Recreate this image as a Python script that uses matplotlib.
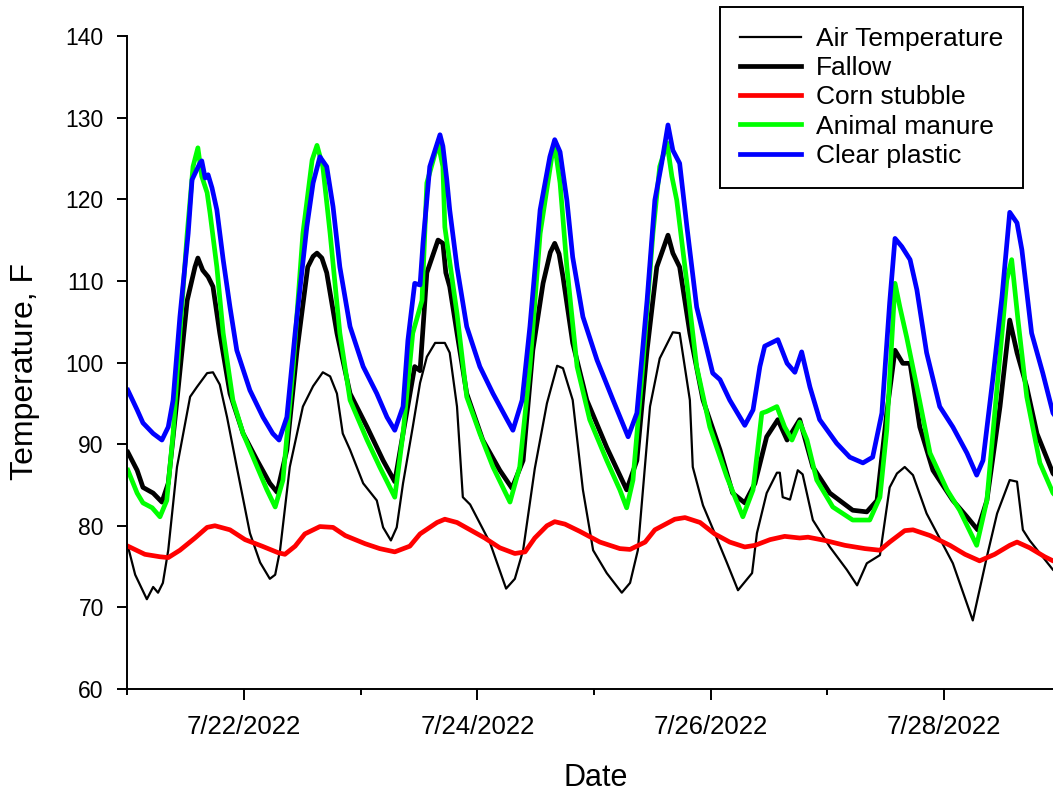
import numpy as np
import pandas as pd
import matplotlib
matplotlib.use('Agg')
import matplotlib.pyplot as plt
import matplotlib.dates as mdates
from matplotlib.ticker import FuncFormatter

plt.rcParams['font.family'] = ['Liberation Sans', 'DejaVu Sans']

# start of record, hours after it for every reading
start = pd.Timestamp('2022-07-21 00:00')

air_h = [0.1, 1.6, 4.0, 5.3, 6.3, 7.3, 8.4, 10.2, 12.9, 14.3, 16.4, 17.6, 19.0, 20.5, 22.5,
         25.2, 27.3, 29.3, 30.4, 31.4, 33.4, 36.1, 38.2, 40.2, 41.7, 43.1, 44.3, 45.8, 48.5,
         51.3, 52.6, 54.2, 55.4, 56.7, 58.7, 60.2, 61.6, 63.3, 65.3, 66.3, 67.8, 69.0, 70.5,
         74.6, 77.9, 79.7, 81.4, 83.8, 86.3, 88.4, 89.6, 91.6, 93.7, 95.8, 98.6, 101.7, 103.4,
         105.0, 107.5, 109.5, 112.2, 113.6, 115.7, 116.3, 118.4, 120.8, 123.3, 125.6, 128.5,
         129.5, 131.5, 133.6, 134.2, 134.8, 136.3, 137.9, 138.9, 141.0, 144.5, 148.0, 150.1,
         152.1, 154.8, 156.8, 158.3, 159.9, 161.6, 164.4, 169.8, 173.9, 176.8, 178.9, 181.5,
         183.0, 184.2, 185.6, 190.4, 192.0]
air_t = [77.5, 74.0, 71.0, 72.5, 71.8, 73.0, 77.0, 87.2, 95.8, 97.0, 98.7, 98.8, 97.3, 93.3, 87.2,
         79.1, 75.5, 73.5, 74.0, 77.0, 87.2, 94.6, 97.1, 98.8, 98.3, 96.2, 91.3, 89.3, 85.2,
         83.1, 79.8, 78.2, 79.8, 85.2, 92.1, 97.5, 100.7, 102.4, 102.4, 101.2, 94.6, 83.5, 82.6,
         77.9, 72.3, 73.5, 77.0, 87.0, 95.0, 99.6, 99.3, 95.4, 84.4, 77.0, 74.2, 71.8, 73.0,
         77.0, 94.6, 100.5, 103.7, 103.6, 95.4, 87.2, 82.5, 79.1, 75.5, 72.1, 74.2,
         79.1, 84.0, 86.5, 86.5, 83.5, 83.2, 86.8, 86.3, 80.7, 77.4, 74.6, 72.7,
         75.4, 76.4, 84.7, 86.4, 87.2, 86.2, 81.5, 75.4, 68.4, 76.2, 81.5, 85.6,
         85.4, 79.5, 78.2, 74.6, 74.0]

fallow_h = [0.1, 2.0, 3.2, 5.3, 7.1, 8.4, 10.2, 12.3, 13.9, 14.5, 15.5, 16.6, 17.6, 19.0, 21.1,
            23.8, 26.7, 29.3, 30.8, 32.8, 34.9, 37.1, 38.2, 39.0, 40.0, 41.0, 43.1, 45.8, 49.3, 52.6, 55.0,
            56.7, 59.1, 60.2, 61.6, 63.9, 64.9, 65.5, 66.3, 67.8, 69.8, 73.1, 76.6, 79.1, 81.4,
            83.4, 85.5, 87.0, 87.9, 88.8, 89.6, 91.6, 94.5, 98.6, 102.7, 104.8, 106.9, 108.9, 111.2, 112.2,
            113.6, 115.7, 118.4, 121.9, 124.5, 127.0, 129.1, 131.5, 133.8, 135.7, 138.3, 141.0,
            144.5, 149.2, 152.1, 154.2, 156.2, 157.9, 159.5, 161.0, 163.0, 165.7, 169.8, 172.7,
            174.9, 176.8, 179.5, 181.5, 183.0, 185.0, 187.1, 190.4, 192.0]
fallow_t = [89.0, 86.8, 84.7, 84.0, 82.9, 85.2, 95.4, 107.6, 111.7, 112.8, 111.3, 110.5, 109.3, 103.6, 96.2,
            91.3, 88.0, 85.2, 84.1, 89.3, 101.5, 111.7, 113.0, 113.4, 112.8, 111.0, 103.6, 96.2, 92.1, 88.0, 85.4,
            91.3, 99.5, 99.0, 111.0, 115.0, 114.6, 111.0, 109.3, 103.6, 96.2, 90.5, 86.8, 84.6, 88.0,
            101.5, 109.7, 113.5, 114.6, 113.3, 110.5, 102.4, 95.4, 89.6, 84.4, 88.0, 101.5, 111.7, 115.6, 113.4,
            111.7, 103.6, 95.4, 89.3, 84.0, 82.8, 85.2, 90.9, 93.0, 90.5, 93.0, 87.2,
            84.0, 81.9, 81.7, 83.1, 93.8, 101.5, 99.9, 99.9, 92.1, 86.8, 83.1, 81.1,
            79.5, 83.1, 94.6, 105.2, 101.2, 97.0, 91.3, 86.4, 85.5]

corn_h = [0.1, 3.6, 6.7, 8.4, 10.8, 13.9, 16.4, 18.0, 21.1, 24.2, 27.7, 31.0, 32.4, 34.5, 36.5,
          39.6, 42.3, 44.8, 48.9, 51.9, 55.0, 58.1, 60.2, 63.7, 65.3, 67.8, 70.5, 73.5, 76.6,
          79.7, 81.8, 83.8, 86.3, 87.9, 90.0, 93.1, 97.2, 101.3, 103.4, 106.5, 108.5, 112.6,
          114.7, 117.8, 120.8, 123.9, 127.0, 129.1, 132.2, 135.2, 138.3, 140.0, 143.5, 147.6,
          151.7, 154.8, 156.8, 159.9, 161.6, 165.1, 169.2, 172.3, 175.3, 178.4, 181.5, 183.0,
          185.6, 188.7, 190.4, 192.0]
corn_t = [77.5, 76.5, 76.2, 76.1, 77.0, 78.5, 79.8, 80.0, 79.5, 78.3, 77.5, 76.7, 76.5, 77.5, 79.0,
          79.9, 79.8, 78.8, 77.8, 77.2, 76.8, 77.5, 79.0, 80.4, 80.8, 80.4, 79.5, 78.5, 77.3,
          76.6, 76.8, 78.5, 80.0, 80.5, 80.2, 79.3, 78.0, 77.2, 77.1, 78.0, 79.5, 80.8,
          81.0, 80.4, 79.0, 78.0, 77.4, 77.6, 78.3, 78.7, 78.5, 78.6, 78.2, 77.6,
          77.2, 77.0, 78.0, 79.4, 79.5, 78.8, 77.6, 76.5, 75.7, 76.5, 77.6, 78.0,
          77.3, 76.2, 75.7, 75.5]

manure_h = [0.1, 2.0, 3.2, 5.1, 6.7, 8.1, 9.4, 10.8, 12.3, 13.5, 14.5, 15.3, 16.4, 17.0, 18.4,
            19.7, 21.7, 23.8, 26.7, 28.7, 30.4, 32.0, 34.1, 36.1, 38.0, 39.0, 40.2, 41.7, 43.7,
            45.8, 49.3, 51.9, 55.0, 56.7, 58.7, 60.6, 61.6, 63.9, 64.9, 65.3, 67.8, 69.8, 72.5,
            75.2, 78.7, 80.7, 82.8, 84.9, 87.3, 87.9, 89.0, 90.4, 92.5, 95.1, 98.6, 101.3, 102.7,
            104.0, 106.0, 108.1, 109.5, 111.0, 112.0, 113.0, 115.1, 117.1, 119.8, 123.3, 126.6,
            128.7, 130.5, 131.5, 133.6, 135.2, 136.7, 138.3, 139.8, 141.8, 145.1, 149.2, 152.7,
            154.8, 156.2, 157.9, 158.9, 160.3, 162.4, 165.1, 168.6, 171.2, 174.7, 176.8, 178.9,
            180.9, 181.9, 183.2, 185.0, 187.7, 190.4, 192.0]
manure_t = [86.8, 84.0, 82.8, 82.2, 81.1, 83.1, 91.3, 103.6, 115.8, 124.0, 126.3, 122.8, 120.8, 118.3, 111.7,
            103.6, 95.4, 91.3, 87.2, 84.4, 82.3, 85.6, 99.5, 115.8, 124.8, 126.6, 124.0, 115.8, 103.6,
            95.4, 90.5, 87.2, 83.5, 91.3, 103.6, 107.6, 122.0, 126.9, 124.0, 116.6, 106.0, 95.8, 91.3,
            87.2, 82.9, 87.2, 99.5, 115.8, 125.2, 126.6, 122.0, 111.7, 99.5, 93.0, 88.0, 84.4, 82.2,
            85.6, 99.5, 115.8, 124.0, 126.9, 122.8, 119.9, 109.7, 99.5, 92.1, 86.0, 81.1,
            84.4, 93.8, 94.0, 94.6, 92.1, 90.5, 92.7, 90.5, 85.6, 82.3, 80.7, 80.7,
            83.5, 91.7, 109.7, 106.8, 103.1, 97.0, 88.9, 84.4, 81.9, 77.6, 83.1, 97.0,
            110.1, 112.6, 105.2, 95.8, 87.7, 84.0, 83.0]

plastic_h = [0.1, 2.0, 3.2, 5.3, 7.1, 8.4, 9.4, 10.8, 12.5, 13.3, 14.9, 15.3, 16.0, 16.6, 17.4,
             18.4, 19.7, 21.1, 22.5, 25.2, 27.9, 29.9, 31.2, 32.8, 34.5, 36.9, 38.2, 39.6, 41.0,
             42.3, 43.7, 45.8, 48.5, 51.3, 53.4, 55.0, 56.7, 57.7, 59.1, 60.2, 60.8, 62.2, 64.3,
             64.9, 65.7, 66.3, 67.8, 69.8, 72.5, 75.2, 78.1, 79.3, 81.2, 82.8, 84.9, 86.9, 87.9,
             89.0, 90.4, 91.6, 93.7, 96.6, 99.9, 103.0, 104.8, 106.9, 108.5, 109.9, 111.2, 112.2,
             113.6, 115.1, 117.1, 120.4, 121.9, 123.9, 127.0, 128.7, 130.1, 131.1, 133.8, 135.7,
             137.3, 138.7, 140.4, 142.4, 145.9, 148.6, 151.3, 153.3, 155.2, 156.8, 157.9, 159.3,
             161.0, 162.4, 164.4, 167.1, 169.8, 172.7, 174.7, 176.0, 178.0, 179.9, 181.5, 183.0,
             184.0, 186.0, 188.3, 190.4, 192.0]
plastic_t = [96.6, 94.2, 92.6, 91.3, 90.5, 92.1, 95.4, 105.6, 115.8, 122.4, 124.4, 124.7, 122.6, 123.0, 121.4,
             118.7, 112.6, 106.8, 101.5, 96.6, 93.3, 91.3, 90.5, 93.3, 103.6, 116.6, 122.0, 125.2, 124.0,
             119.1, 111.7, 104.4, 99.5, 96.2, 93.3, 91.7, 94.6, 102.7, 109.7, 109.5, 114.6, 124.0, 127.9,
             126.5, 122.4, 118.7, 111.7, 104.4, 99.5, 96.2, 93.0, 91.7, 95.4, 104.4, 118.7, 125.2, 127.3,
             125.8, 119.9, 112.9, 105.6, 100.3, 95.4, 90.9, 93.8, 107.6, 119.9, 124.4, 129.1, 126.0,
             124.4, 116.6, 106.8, 98.7, 97.9, 95.4, 92.3, 94.2, 99.5, 102.0, 102.8, 99.9,
             98.8, 101.3, 97.0, 93.0, 90.1, 88.4, 87.7, 88.4, 93.8, 107.3, 115.2, 114.2,
             112.6, 108.9, 101.2, 94.6, 92.1, 88.9, 86.2, 88.0, 97.9, 108.0, 118.4, 117.1,
             113.8, 103.6, 98.7, 93.8, 92.5]

labels = ['Air Temperature', 'Fallow', 'Corn stubble', 'Animal manure', 'Clear plastic']
colors = ['black', 'black', '#ff0000', '#00ff00', '#0000ff']
widths = [1.6, 3.4, 3.4, 3.4, 3.4]
series = [(air_h, air_t), (fallow_h, fallow_t), (corn_h, corn_t),
          (manure_h, manure_t), (plastic_h, plastic_t)]


def to_dates(hours):
    return start + pd.to_timedelta(np.array(hours), unit='h')


fig = plt.figure(figsize=(10.53, 8.0), dpi=100)
ax = fig.add_axes([127.4 / 1053, 111 / 800, (1053 - 127.4) / 1053, 653 / 800])

for (h, t), lab, c, w in zip(series, labels, colors, widths):
    ax.plot(to_dates(h), t, color=c, lw=w, label=lab, solid_joinstyle='round')

ax.set_ylim(60, 140)
ax.set_yticks(range(60, 141, 10))
ax.set_xlim(start, start + pd.Timedelta(hours=190.4))

ax.xaxis.set_major_locator(mdates.DayLocator(bymonthday=[22, 24, 26, 28]))
ax.xaxis.set_minor_locator(mdates.DayLocator())
ax.xaxis.set_major_formatter(FuncFormatter(
    lambda v, pos: '{d.month}/{d.day}/{d.year}'.format(d=mdates.num2date(v))))

for s in ['top', 'right']:
    ax.spines[s].set_visible(False)
for s in ['left', 'bottom']:
    ax.spines[s].set_linewidth(1.4)

ax.tick_params(axis='y', which='major', direction='out', length=7, width=1.4,
               labelsize=16.5, pad=10)
ax.tick_params(axis='x', which='major', direction='out', length=8, width=1.4,
               labelsize=18.5, pad=11)
ax.tick_params(axis='x', which='minor', direction='out', length=4.5, width=1.4)

ax.set_xlabel('Date', fontsize=22)
ax.set_ylabel('Temperature, F', fontsize=23)
ax.xaxis.set_label_coords(0.506, -0.113)
ax.yaxis.set_label_coords(-0.094, 0.486)

leg = ax.legend(loc='upper right', bbox_to_anchor=(1023 / 1053, 1 - 7 / 800),
                bbox_transform=fig.transFigure, borderaxespad=0, fontsize=19,
                fancybox=False, framealpha=1, edgecolor='black',
                handlelength=2.3, handletextpad=0.57, labelspacing=0.2, borderpad=0.75)
leg.get_frame().set_linewidth(1.4)

fig.savefig('out.png', dpi=100)
